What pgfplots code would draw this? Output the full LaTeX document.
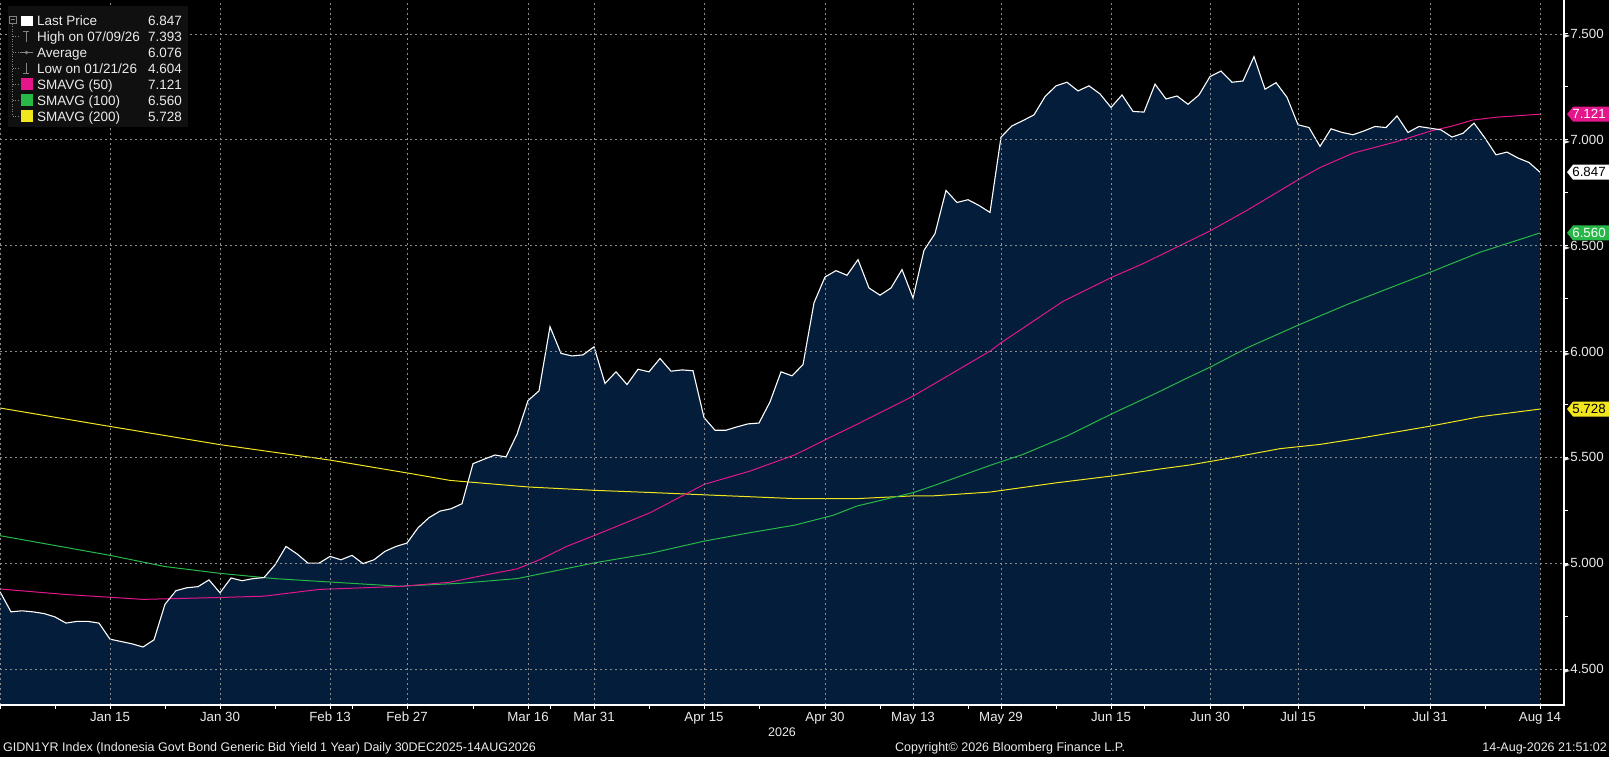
\documentclass[border=0pt]{standalone}
\usepackage{fontspec}
\setmainfont{Liberation Sans}
\newfontfamily\dejavu{DejaVu Sans}
\usepackage{pgfplots}
\pgfplotsset{compat=1.18}
\usepackage{pgfplotstable}
\definecolor{navy}{RGB}{3,29,59}
\definecolor{bbmag}{RGB}{228,22,140}
\definecolor{bbgreen}{RGB}{40,184,72}
\definecolor{bbyellow}{RGB}{242,230,30}
\definecolor{gridc}{RGB}{140,140,140}
\definecolor{txt}{RGB}{235,235,235}
\definecolor{legbg}{RGB}{16,16,16}
\definecolor{treec}{RGB}{130,130,130}
\newcommand\tri{{\dejavu\fontsize{8pt}{8pt}\selectfont ►}}

\pgfplotstableread{
x y
0 4.865
11 4.770
22 4.775
33 4.770
44 4.762
55 4.746
66 4.717
77 4.725
88 4.725
99 4.717
110 4.641
121 4.630
132 4.619
143 4.604
154 4.638
165 4.806
176 4.870
187 4.884
198 4.889
209 4.921
220 4.860
231 4.930
242 4.917
253 4.927
264 4.932
275 4.992
286 5.079
297 5.044
308 5.000
319 5.000
330 5.032
341 5.016
352 5.037
363 4.998
374 5.016
385 5.056
396 5.079
407 5.095
418 5.167
429 5.215
440 5.246
451 5.257
462 5.281
473 5.470
484 5.491
495 5.511
506 5.502
517 5.609
528 5.768
539 5.814
550 6.117
561 5.991
572 5.979
583 5.984
594 6.022
605 5.849
616 5.904
627 5.844
638 5.916
649 5.904
660 5.967
671 5.907
682 5.913
693 5.909
704 5.688
715 5.628
726 5.628
737 5.644
748 5.658
759 5.662
770 5.762
781 5.904
792 5.885
803 5.938
814 6.230
825 6.352
836 6.382
847 6.360
858 6.434
869 6.300
880 6.266
891 6.300
902 6.387
913 6.253
924 6.478
935 6.557
946 6.761
957 6.704
968 6.717
979 6.690
990 6.657
1001 7.013
1012 7.066
1023 7.091
1034 7.118
1045 7.204
1056 7.255
1067 7.272
1078 7.231
1089 7.255
1100 7.217
1111 7.153
1122 7.212
1133 7.134
1144 7.131
1155 7.263
1166 7.193
1177 7.207
1188 7.168
1199 7.212
1210 7.299
1221 7.325
1232 7.272
1243 7.278
1254 7.393
1265 7.239
1276 7.270
1287 7.201
1298 7.071
1309 7.058
1320 6.969
1331 7.052
1342 7.035
1353 7.024
1364 7.042
1375 7.063
1386 7.058
1397 7.113
1408 7.035
1419 7.063
1430 7.055
1441 7.047
1452 7.013
1463 7.031
1474 7.079
1485 7.008
1496 6.929
1507 6.942
1518 6.914
1529 6.893
1540 6.847
}\price

\pgfplotstableread{
x y
0 4.878
66 4.852
143 4.829
220 4.838
264 4.844
319 4.876
400 4.890
450 4.910
487 4.946
517 4.973
540 5.017
567 5.080
595 5.132
650 5.238
704 5.372
750 5.435
795 5.512
826 5.585
857 5.656
913 5.789
933 5.844
990 6.002
1001 6.041
1063 6.237
1112 6.351
1143 6.415
1185 6.512
1211 6.572
1247 6.667
1298 6.811
1320 6.869
1353 6.937
1397 6.992
1431 7.042
1453 7.066
1473 7.094
1497 7.107
1540 7.121
}\smaA

\pgfplotstableread{
x y
0 5.130
110 5.037
165 4.984
220 4.952
275 4.927
330 4.911
400 4.891
460 4.905
517 4.927
595 5.002
650 5.046
704 5.104
750 5.144
795 5.180
833 5.226
857 5.270
913 5.333
933 5.365
990 5.462
1023 5.514
1067 5.601
1112 5.706
1157 5.805
1185 5.870
1211 5.928
1247 6.017
1298 6.124
1347 6.222
1431 6.376
1480 6.469
1540 6.560
}\smaB

\pgfplotstableread{
x y
0 5.733
110 5.646
220 5.560
330 5.487
410 5.424
450 5.391
528 5.360
595 5.344
650 5.334
704 5.323
795 5.305
857 5.305
913 5.318
933 5.318
990 5.336
1057 5.380
1112 5.412
1157 5.443
1190 5.464
1223 5.491
1280 5.541
1320 5.561
1363 5.593
1431 5.648
1480 5.692
1540 5.728
}\smaC

\begin{document}
\begin{tikzpicture}
\fill[black] (0pt,-52pt) rectangle (1609pt,705pt);
\begin{axis}[
  at={(0pt,0pt)}, anchor=south west,
  scale only axis, width=1564pt, height=705pt,
  xmin=0, xmax=1564, ymin=4.330, ymax=7.6606,
  axis on top,
  axis line style={draw=none},
  xtick={0,110,220,330,407,528,594,704,825,913,1001,1111,1210,1298,1430,1540},
  xticklabels={{},Jan 15,Jan 30,Feb 13,Feb 27,Mar 16,Mar 31,Apr 15,Apr 30,May 13,May 29,Jun 15,Jun 30,Jul 15,Jul 31,Aug 14},
  minor xtick={55,165,275,352,473,550,649,759,880,968,1056,1144,1243,1364,1485},
  ytick={4.5,5,5.5,6,6.5,7,7.5},
  yticklabels={\tri4.500,\tri5.000,\tri5.500,\tri6.000,\tri6.500,\tri7.000,\tri7.500},
  minor ytick={4.75,5.25,5.75,6.25,6.75,7.25},
  xtick pos=bottom, ytick pos=right,
  tick align=outside,
  major tick length=4pt, minor tick length=4pt,
  tick style={white, line width=1pt},
  grid=major,
  major grid style={gridc, line width=0.7pt, dash pattern=on 2pt off 3pt},
  tick label style={font=\fontsize{13.3pt}{15pt}\selectfont, text=txt},
  xticklabel style={inner sep=0pt, yshift=-3pt},
  yticklabel style={anchor=west, inner sep=0pt, xshift=-4pt},
]
\addplot[fill=navy, draw=none] table[x=x,y=y] {\price} \closedcycle;
\addplot[bbyellow, line width=1pt] table[x=x,y=y] {\smaC};
\addplot[bbgreen, line width=1pt] table[x=x,y=y] {\smaB};
\addplot[bbmag, line width=1pt] table[x=x,y=y] {\smaA};
\addplot[white, line width=1.1pt] table[x=x,y=y] {\price};
\coordinate (v1) at (axis cs:1564,7.121);
\coordinate (v2) at (axis cs:1564,6.847);
\coordinate (v3) at (axis cs:1564,6.560);
\coordinate (v4) at (axis cs:1564,5.728);
\end{axis}
% axis lines
\draw[white, line width=1.3pt] (0pt,0pt) -- (1564pt,0pt) -- (1564pt,705pt);
% value labels
\fill[bbmag] ([xshift=3pt]v1) -- ++(6pt,7.5pt) -- ++(36pt,0) -- ++(0,-15pt) -- ++(-36pt,0) -- cycle;
\node[text=white, font=\fontsize{13.3pt}{15pt}\selectfont, inner sep=0pt] at ([xshift=25pt]v1) {7.121};
\fill[white] ([xshift=3pt]v2) -- ++(6pt,7.5pt) -- ++(36pt,0) -- ++(0,-15pt) -- ++(-36pt,0) -- cycle;
\node[text=black, font=\fontsize{13.3pt}{15pt}\selectfont, inner sep=0pt] at ([xshift=25pt]v2) {6.847};
\fill[bbgreen] ([xshift=3pt]v3) -- ++(6pt,7.5pt) -- ++(36pt,0) -- ++(0,-15pt) -- ++(-36pt,0) -- cycle;
\node[text=white, font=\fontsize{13.3pt}{15pt}\selectfont, inner sep=0pt] at ([xshift=25pt]v3) {6.560};
\fill[bbyellow] ([xshift=3pt]v4) -- ++(6pt,7.5pt) -- ++(36pt,0) -- ++(0,-15pt) -- ++(-36pt,0) -- cycle;
\node[text=black, font=\fontsize{13.3pt}{15pt}\selectfont, inner sep=0pt] at ([xshift=25pt]v4) {5.728};
% legend
\fill[legbg] (8pt,578pt) rectangle (188pt,699pt);
\draw[treec, line width=0.8pt] (9pt,682pt) rectangle (16pt,689pt);
\draw[treec, line width=0.8pt] (10.5pt,685.5pt) -- (14.5pt,685.5pt);
\draw[treec, line width=0.7pt, dash pattern=on 1pt off 1.5pt] (12.5pt,681pt) -- (12.5pt,589pt);
\foreach \r in {668.4,652.5,636.6,620.7,604.8,588.9}
  \draw[treec, line width=0.7pt, dash pattern=on 1pt off 1.5pt] (12.5pt,\r pt) -- (19pt,\r pt);
\fill[white] (21pt,679pt) rectangle (33pt,689pt);
\draw[treec, line width=0.9pt] (23pt,673.5pt) -- (29pt,673.5pt) (26pt,673.5pt) -- (26pt,663pt);
\draw[treec, line width=0.9pt] (20pt,652.5pt) -- (33pt,652.5pt);
\fill[treec] (26.5pt,652.5pt) circle (1.8pt);
\draw[treec, line width=0.9pt] (23pt,631.5pt) -- (29pt,631.5pt) (26pt,631.5pt) -- (26pt,642pt);
\fill[bbmag] (21pt,614.7pt) rectangle (33pt,626.7pt);
\fill[bbgreen] (21pt,598.8pt) rectangle (33pt,610.8pt);
\fill[bbyellow] (21pt,582.9pt) rectangle (33pt,594.9pt);
\begin{scope}[every node/.style={text=txt, font=\fontsize{13.5pt}{16pt}\selectfont, inner sep=0pt}]
\node[anchor=base west] at (37pt,679.3pt) {Last Price};
\node[anchor=base west] at (37pt,663.4pt) {High on 07/09/26};
\node[anchor=base west] at (37pt,647.5pt) {Average};
\node[anchor=base west] at (37pt,631.6pt) {Low on 01/21/26};
\node[anchor=base west] at (37pt,615.7pt) {SMAVG (50)};
\node[anchor=base west] at (37pt,599.8pt) {SMAVG (100)};
\node[anchor=base west] at (37pt,583.9pt) {SMAVG (200)};
\node[anchor=base east] at (182pt,679.3pt) {6.847};
\node[anchor=base east] at (182pt,663.4pt) {7.393};
\node[anchor=base east] at (182pt,647.5pt) {6.076};
\node[anchor=base east] at (182pt,631.6pt) {4.604};
\node[anchor=base east] at (182pt,615.7pt) {7.121};
\node[anchor=base east] at (182pt,599.8pt) {6.560};
\node[anchor=base east] at (182pt,583.9pt) {5.728};
\end{scope}
% footer
\begin{scope}[every node/.style={text=txt, font=\fontsize{12.5pt}{14pt}\selectfont, inner sep=0pt}]
\node at (782pt,-27pt) {2026};
\node[anchor=west] at (3pt,-43pt) {GIDN1YR Index (Indonesia Govt Bond Generic Bid Yield 1 Year) Daily 30DEC2025-14AUG2026};
\node[anchor=west] at (895pt,-43pt) {Copyright© 2026 Bloomberg Finance L.P.};
\node[anchor=east] at (1607pt,-43pt) {14-Aug-2026 21:51:02};
\end{scope}
\pgfresetboundingbox
\path[use as bounding box] (0pt,-52pt) rectangle (1609pt,705pt);
\end{tikzpicture}
\end{document}
